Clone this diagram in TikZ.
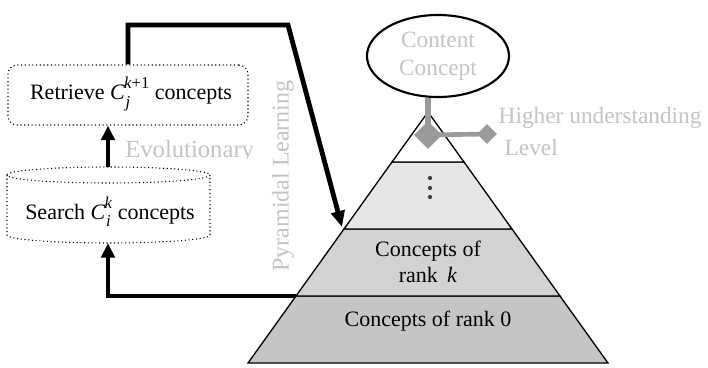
\documentclass[tikz,border=0pt]{standalone}
\usepackage{fontspec}
\setmainfont{Liberation Serif}
\usetikzlibrary{shapes.geometric,arrows.meta,calc}
\definecolor{lighttxt}{HTML}{C4C4C4}
\definecolor{linkgray}{HTML}{9A9A9A}
\definecolor{tierA}{HTML}{E6E6E6}
\definecolor{tierB}{HTML}{D3D3D3}
\definecolor{tierC}{HTML}{C5C5C5}
% italic symbol with sub- and superscript, set in the text font
\newcommand{\csym}[2]{\textit{C}\kern0.5pt\raisebox{-0.32em}{\fontsize{12.5}{12.5}\selectfont\textit{#1}}\kern-0.28em\raisebox{0.5em}{\fontsize{12.5}{12.5}\selectfont#2}}
\begin{document}
\begin{tikzpicture}[x=0.75pt,y=-0.75pt,
  every node/.style={font=\fontsize{16.5}{19}\selectfont},
  flow/.style={line width=3.6pt,-{Triangle[length=11pt,width=10pt]}},
  softtext/.style={text=lighttxt},
  tierline/.style={draw=black,line width=1pt},
  link/.style={draw=linkgray,line width=4pt},
  dotline/.style={dotted,line width=0.8pt}]
\useasboundingbox (0,0) rectangle (708,368);

% pyramid tiers
\coordinate (apex) at (428,112);
\filldraw[tierline,fill=tierC] (296,296) -- (560,296) -- (608,363) -- (248,363) -- cycle;
\filldraw[tierline,fill=tierB] (344,229) -- (512,229) -- (560,296) -- (296,296) -- cycle;
\filldraw[tierline,fill=tierA] (392,162) -- (464,162) -- (512,229) -- (344,229) -- cycle;
\filldraw[tierline,fill=white] (apex) -- (464,162) -- (392,162) -- cycle;
\foreach \yy in {178,188,197} \fill[black!75] (430,\yy) circle (1.6pt);
\node[align=center,inner sep=0pt] (rankk) at (428,262) {Concepts of\\rank \,\textit{k}};
\node[inner sep=0pt] (rank0) at (428,321) {Concepts of rank 0};
\coordinate (tierk) at (342,227);
\coordinate (tier0) at (296,296);

% content concept at the top
\node[ellipse,draw=black,line width=1.6pt,minimum width=142pt*0.75,minimum height=82pt*0.75,
      align=center,softtext,font=\fontsize{17.5}{21}\selectfont] (content) at (438,56) {Content\\Concept};
\coordinate (joint) at (428,135);
\coordinate (levelend) at (487,134);
\draw[link] (content.south -| joint) -- (joint);
\draw[link,line width=3.5pt] (joint) -- (levelend);
\node[diamond,fill=linkgray,minimum width=28pt*0.75,minimum height=28pt*0.75,inner sep=0pt] (dmain) at (joint) {};
\node[diamond,fill=linkgray,minimum width=20pt*0.75,minimum height=20pt*0.75,inner sep=0pt] (dlevel) at (levelend) {};
\node[softtext,anchor=west,font=\fontsize{17.5}{19}\selectfont] (higher) at (494,118) {Higher understanding};
\node[softtext,anchor=west,font=\fontsize{17.5}{19}\selectfont] (level) at (500,148) {Level};

% left side process boxes
\node[draw,dotline,rounded corners=7pt,minimum width=240pt*0.75,minimum height=60pt*0.75] (retrieve) at (128,95) {};
\node (retrievetxt) at (131,94) {Retrieve \csym{j}{\textit{k}+1} concepts};
% storage cylinder
\coordinate (searchtop) at (108,167);
\coordinate (searchbot) at (108,243);
\draw[dotline] (7,175) -- (7,235) arc[start angle=180,end angle=360,x radius=101.5,y radius=-8] -- (210,175);
\draw[dotline] (108.5,175) ellipse[x radius=101.5,y radius=8];
\node (searchtxt) at (110,212) {Search \csym{i}{\textit{k}} concepts};

% flows
\draw[flow] (searchtop) -- (retrieve.south -| searchtop);
\draw[flow] (tier0) -- (108,296) -- (searchbot);
\draw[flow,-{Triangle[length=12pt,width=10pt]}] (retrieve.north -| 128,0) -- (128,25) -- (288,25) -- (tierk);

% captions
\begin{scope}
  \clip (110,128) rectangle (270,158);
  \node[softtext,font=\fontsize{18.5}{20}\selectfont,anchor=base west,inner sep=0pt] (evo) at (125,157) {Evolutionary};
\end{scope}
\node[softtext,rotate=90,font=\fontsize{18}{20}\selectfont] (pyr) at (283,176) {Pyramidal Learning};
\end{tikzpicture}
\end{document}
